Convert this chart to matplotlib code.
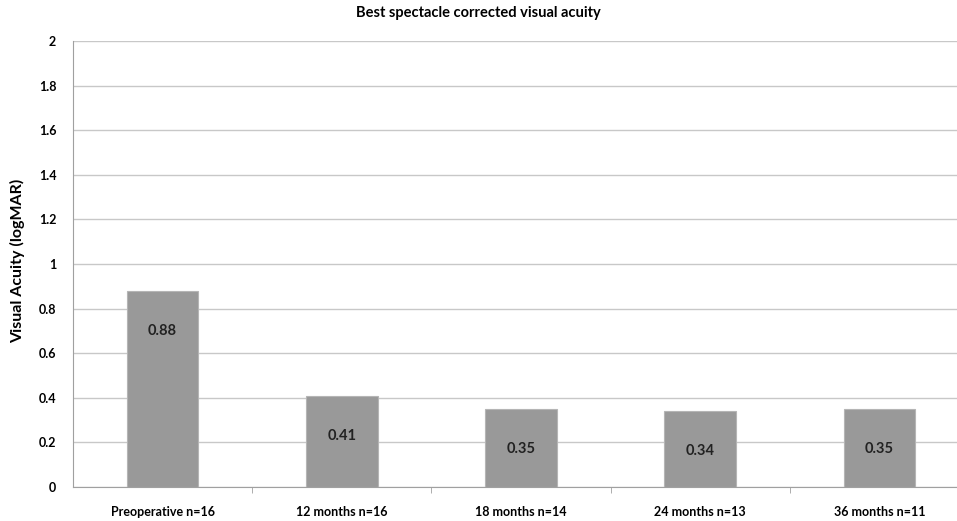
import matplotlib.pyplot as plt
import numpy as np

plt.rcParams['font.family'] = ['Lato', 'DejaVu Sans']

categories = ['Preoperative n=16', '12 months n=16', '18 months n=14',
              '24 months n=13', '36 months n=11']
acuity = [0.88, 0.41, 0.35, 0.34, 0.35]
y_ticks = [0, 0.2, 0.4, 0.6, 0.8, 1, 1.2, 1.4, 1.6, 1.8, 2]
y_tick_labels = ['0', '0.2', '0.4', '0.6', '0.8', '1', '1.2', '1.4', '1.6', '1.8', '2']

fig = plt.figure(figsize=(9.57, 5.21), dpi=100)
ax = fig.add_axes([73 / 957, 1 - 487 / 521, 896 / 957, 446 / 521])

x = np.arange(len(categories))
bars = ax.bar(x, acuity, width=0.4, color='#999999', edgecolor='#b5b5b5',
              linewidth=0.8, zorder=3)

for xi, v in zip(x, acuity):
    ax.annotate(f'{v:.2f}', (xi, v), xytext=(0, -29), textcoords='offset points',
                ha='center', va='center', fontsize=10.5, fontweight='bold',
                color='#222222', zorder=4)

ax.set_xlim(-0.5, len(categories) - 0.5)
ax.set_ylim(0, 2)
ax.set_yticks(y_ticks)
ax.set_yticklabels(y_tick_labels)
ax.yaxis.grid(True, color='#c8c8c8', linewidth=1.0, zorder=0)
ax.tick_params(axis='y', length=0, pad=12, labelsize=9)

ax.set_xticks(x)
ax.set_xticklabels(categories, fontsize=9, fontweight='bold')
ax.set_xticks(np.arange(0.5, len(categories) - 0.5), minor=True)
ax.tick_params(axis='x', which='major', length=0, pad=14)
ax.tick_params(axis='x', which='minor', length=4, color='#a0a0a0', direction='out')

for lbl in ax.get_yticklabels():
    lbl.set_fontweight('bold')

for side in ['top', 'right']:
    ax.spines[side].set_visible(False)
ax.spines['left'].set_color('#a0a0a0')
ax.spines['bottom'].set_color('#a0a0a0')

fig.text(18 / 957, 0.5, 'Visual Acuity (logMAR)', rotation=90, ha='center', va='center',
         fontsize=11.5, fontweight='bold')
fig.text(0.5, 0.975, 'Best spectacle corrected visual acuity', ha='center', va='center',
         fontsize=10.5, fontweight='bold')

fig.savefig('out.png', dpi=100)
